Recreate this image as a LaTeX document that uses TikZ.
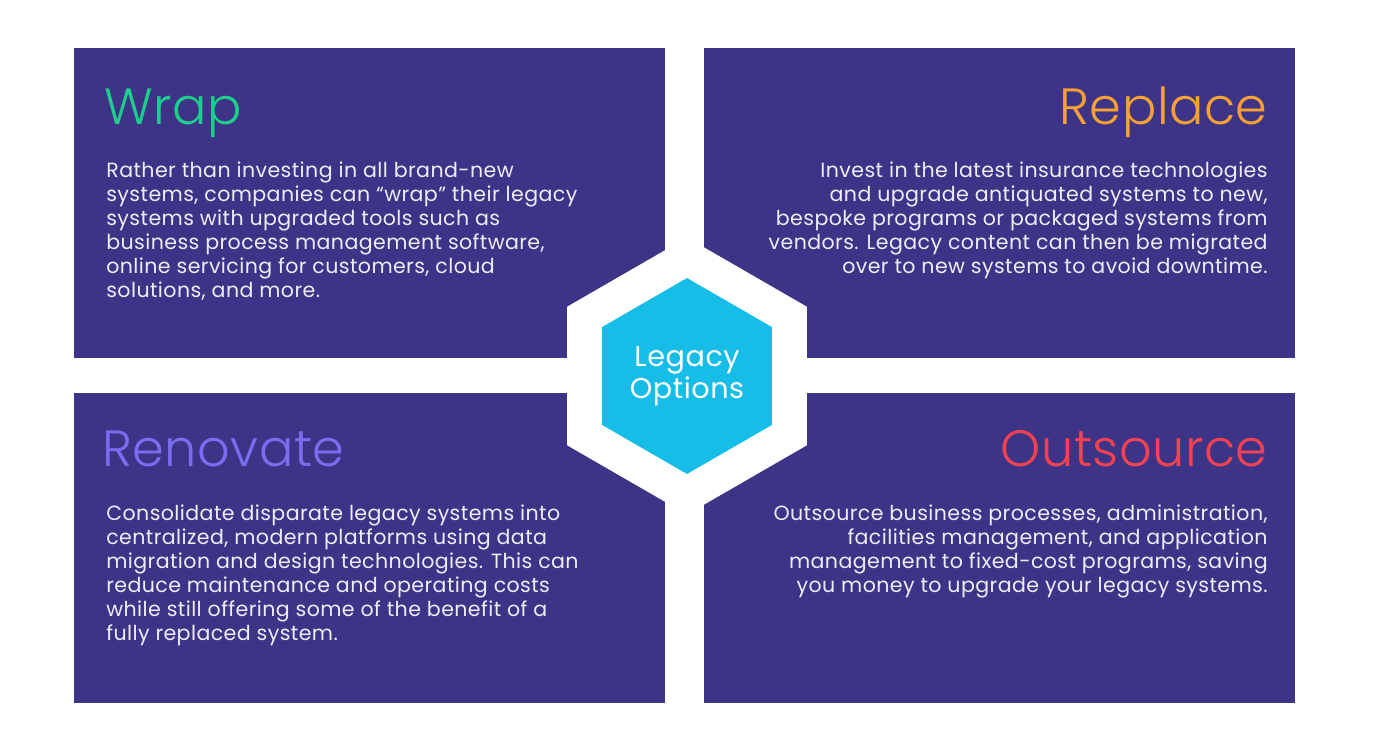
\documentclass[tikz,border=0pt]{standalone}
\usepackage{fontspec}
\setmainfont{Poppins}[LetterSpace=2]
\newfontfamily\headfont{Poppins Light}[LetterSpace=1]
\usetikzlibrary{shapes.geometric}
\definecolor{panelblue}{RGB}{61,52,135}
\definecolor{hexcyan}{RGB}{22,189,230}
\definecolor{wrapgreen}{RGB}{30,206,140}
\definecolor{replaceorange}{RGB}{247,160,52}
\definecolor{renovatelilac}{RGB}{122,110,240}
\definecolor{outsourcered}{RGB}{245,66,82}
\definecolor{bodywhite}{RGB}{238,236,248}

\begin{document}
\begin{tikzpicture}[x=0.02cm,y=-0.02cm,
    panel/.style={rectangle,fill=panelblue,inner sep=0pt,outer sep=0pt,minimum width=11.82cm,minimum height=6.2cm,anchor=north west},
    head/.style={inner sep=0pt,font=\headfont\fontsize{29}{30}\selectfont},
    body/.style={inner sep=0pt,text=bodywhite,font=\fontsize{11.7}{13.66}\selectfont},
    hexring/.style={regular polygon,regular polygon sides=6,shape border rotate=30,fill=white,inner sep=0pt,outer sep=0pt,minimum size=5.54cm},
    hexcore/.style={regular polygon,regular polygon sides=6,shape border rotate=30,fill=hexcyan,inner sep=0pt,outer sep=0pt,minimum size=3.92cm,text=white,align=center,font=\fontsize{16.3}{18.2}\selectfont}
  ]
    \useasboundingbox[fill=white] (0,0) rectangle (1373,750);
    % four panels
    \node[panel] (wrapbox) at (74,48) {};
    \node[panel] (replacebox) at (704,48) {};
    \node[panel] (renovatebox) at (74,393) {};
    \node[panel] (outsourcebox) at (704,393) {};
    % centre hexagon
    \node[hexring] (ring) at (687,376) {};
    \node[hexcore] (core) at (687,376) {Legacy\\Options};
    % headings
    \node[head,text=wrapgreen,anchor=base west] (wraphead) at (104,125) {Wrap};
    \node[head,text=replaceorange,anchor=base east] (replacehead) at (1268,125) {Replace};
    \node[head,text=renovatelilac,anchor=base west] (renovatehead) at (102,466) {Renovate};
    \node[head,text=outsourcered,anchor=base east] (outsourcehead) at (1268,466) {Outsource};
    % texts (placed by the baseline of their last line)
    \node[body,align=left,anchor=base west] (wraptext) at (106,297) {Rather than investing in all brand-new\\systems, companies can “wrap” their legacy\\systems with upgraded tools such as\\business process management software,\\online servicing for customers, cloud\\solutions, and more.};
    \node[body,align=right,anchor=base east] (replacetext) at (1268,273) {Invest in the latest insurance technologies\\and upgrade antiquated systems to new,\\bespoke programs or packaged systems from\\vendors. Legacy content can then be migrated\\over to new systems to avoid downtime.};
    \node[body,align=left,anchor=base west] (renovatetext) at (106,640) {Consolidate disparate legacy systems into\\centralized, modern platforms using data\\migration and design technologies. This can\\reduce maintenance and operating costs\\while still offering some of the benefit of a\\fully replaced system.};
    \node[body,align=right,anchor=base east] (outsourcetext) at (1268,592) {Outsource business processes, administration,\\facilities management, and application\\management to fixed-cost programs, saving\\you money to upgrade your legacy systems.};
\end{tikzpicture}
\end{document}
